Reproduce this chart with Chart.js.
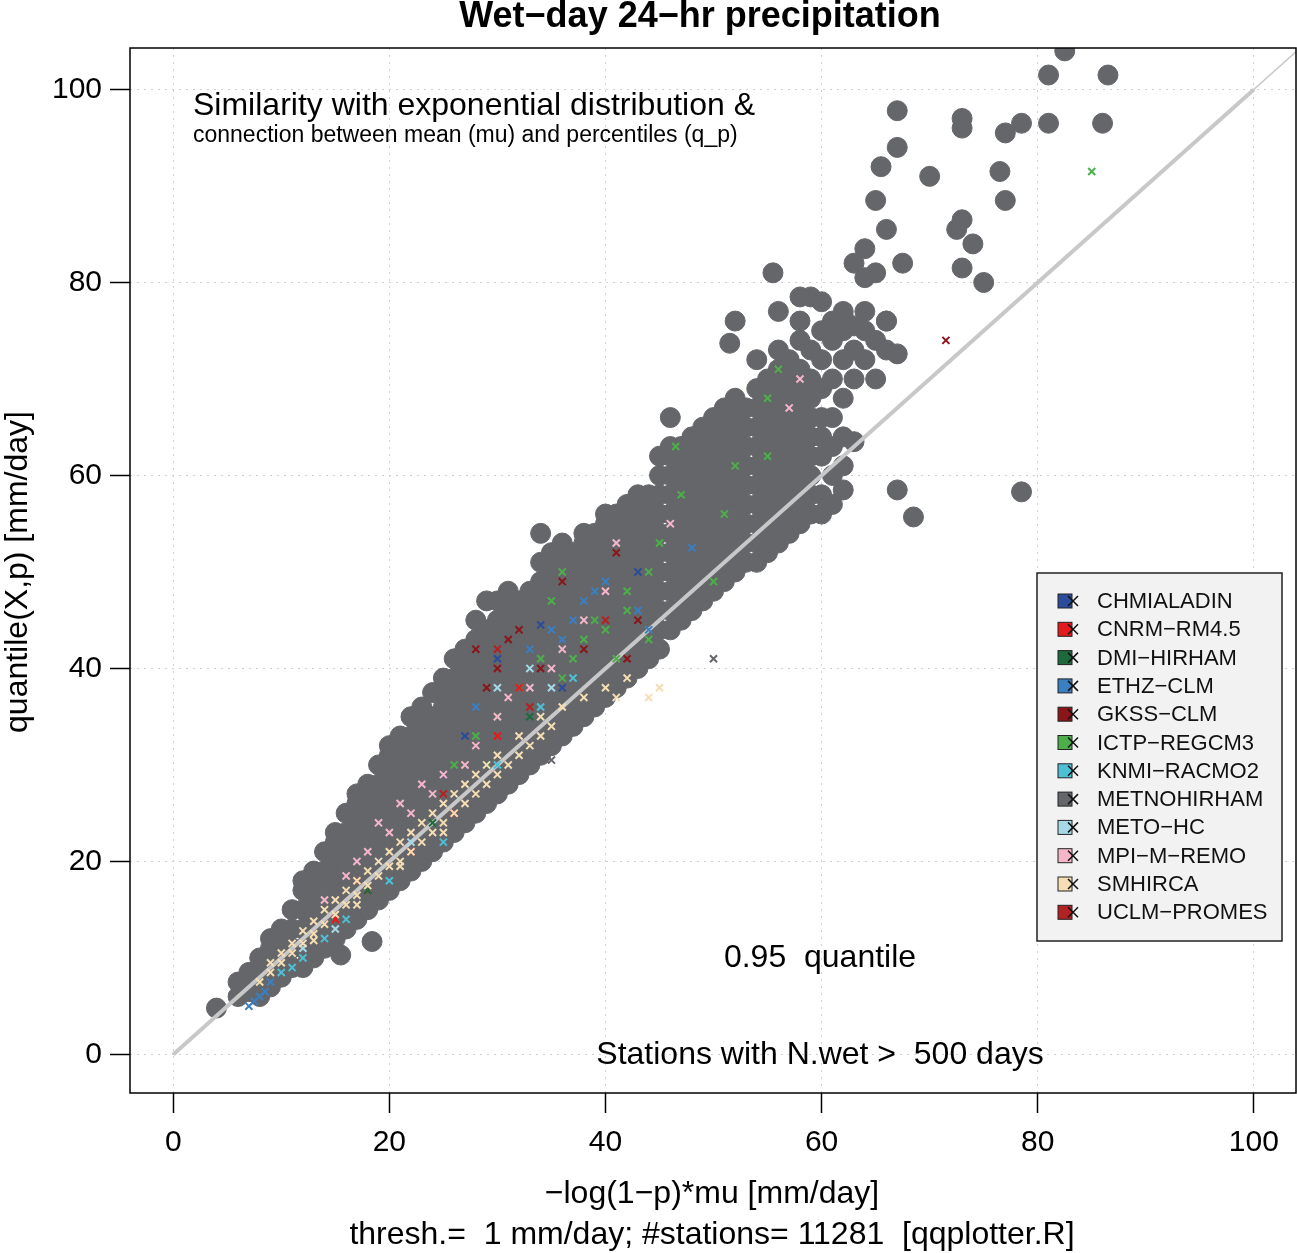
<!DOCTYPE html>
<html><head><meta charset="utf-8">
<script src="https://cdn.jsdelivr.net/npm/chart.js@4.4.1/dist/chart.umd.min.js"></script>
<style>html,body{margin:0;padding:0;background:#fff;overflow:hidden}#c{display:block}</style>
</head><body>
<div style="width:1307px;height:1253px"><canvas id="c"></canvas></div>
<script>
const FONT='"Liberation Sans", Arial, sans-serif';
const ticks=[0,20,40,60,80,100];
const modelNames=['CHMIALADIN','CNRM\u2212RM4.5','DMI\u2212HIRHAM','ETHZ\u2212CLM','GKSS\u2212CLM','ICTP\u2212REGCM3','KNMI\u2212RACMO2','METNOHIRHAM','METO\u2212HC','MPI\u2212M\u2212REMO','SMHIRCA','UCLM\u2212PROMES'];
const modelColors=['#2b4c9b','#e41a1c','#1d6b3c','#3a7fc1','#8b1518','#4daf4a','#4ec0d6','#646669','#a6d8e8','#f6b6c9','#f5deb3','#b22222'];
// METNOHIRHAM dots, by column x: [y values]
const grayCols=[[4,[4.8]],[6,[6,7.5]],[7,[6.5,8.5]],[8,[6,8,10]],[9,[7,9,11,12]],[10,[8,10,12,13]],[11,[9,11,13,15]],[12,[9,11,13,15,17,18]],[13,[10,12,14,16,18,19]],[14,[11,13,15,17,19,21]],[15,[12,14,16,18,20,22,23]],[16,[13,15,17,19,21,23,25]],[17,[14,16,18,20,22,24,26,27]],[18,[15,17,19,21,23,25,27,28]],[19,[16,18,20,22,24,26,28,30]],[20,[17,19,21,23,25,27,29,31,32]],[21,[18,20,22,24,26,28,30,32,33]],[22,[19,21,23,25,27,29,31,33,35]],[23,[20,22,24,26,28,30,32,34,36]],[24,[21,23,25,27,29,31,33,35,37.5]],[25,[22,24,26,28,30,32,34,36,38,39]],[26,[23,25,27,29,31,33,35,37,39,41]],[27,[24,26,28,30,32,34,36,38,40,42]],[28,[25,27,29,31,33,35,37,39,41,43,45]],[29,[26,28,30,32,34,36,38,40,42,44,47]],[30,[27,29,31,33,35,37,39,41,43,45,47]],[31,[28,30,32,34,36,38,40,42,44,46,48]],[32,[29,31,33,35,37,39,41,43,45,47]],[33,[30,32,34,36,38,40,42,44,46,48]],[34,[31,33,35,37,39,41,43,45,47,49,51]],[35,[32,34,36,38,40,42,44,46,48,50,52]],[36,[33,35,37,39,41,43,45,47,49,51,53]],[37,[34,36,38,40,42,44,46,48,50,52]],[38,[35,37,39,41,43,45,47,49,51,53,54]],[39,[36,38,40,42,44,46,48,50,52,54]],[40,[37,39,41,43,45,47,49,51,53,55,56]],[41,[38,40,42,44,46,48,50,52,54,56]],[42,[39,41,43,45,47,49,51,53,55,57]],[43,[40,42,44,46,48,50,52,54,56,58]],[44,[41,43,45,47,49,51,53,55,57,58]],[45,[42,44,46,48,50,52,54,56,58,60,62]],[46,[44,46,48,50,52,54,56,58,60,62,63]],[47,[45,47,49,51,53,55,57,59,61,63]],[48,[46,48,50,52,54,56,58,60,62,64]],[49,[47,49,51,53,55,57,59,61,63,65]],[50,[48,50,52,54,56,58,60,62,64,66]],[51,[49,51,53,55,57,59,61,63,65,67]],[52,[50,52,54,56,58,60,62,64,66,68]],[53,[51,53,55,57,59,61,63,65,67]],[54,[51,53,55,57,59,61,63,65,67,69,72]],[55,[52,54,56,58,60,62,64,66,68,70]],[56,[53,55,57,59,61,63,65,67,69,71,73]],[57,[54,56,58,60,62,64,66,68,70,72]],[58,[55,57,59,61,63,65,67,69,71,74,76]],[59,[56,58,60,62,64,66,68,70,73,78.5]],[60,[56,58,62,64,66,69,72,75,78]],[61,[57,60,63,66,70,74,76]],[62,[58.5,61,64,68,72,75,77]],[63,[63.5,70,73,75.5]],[64,[72,75,77]],[65,[70,74]],[66,[76,73]]];
const grayExtra=[[15.5,10.3],[18.4,11.7],[67,58.5],[68.5,55.7],[78.5,58.3],[55.5,81],[63,82],[66,85.5],[67.5,82],[65,88.5],[65.5,92],[67,94],[67,97.8],[70,91],[72.5,85.5],[73,86.5],[73,81.5],[74,84],[75,80],[73,96],[73,97],[77,95.5],[78.5,96.5],[76.5,91.5],[77,88.5],[81,96.5],[81,101.5],[82.5,104],[86.5,101.5],[86,96.5],[64,83.5],[64,80.5],[65,81],[52,76],[51.5,73.7],[56,77],[58,78.5],[62,76.5],[66,76],[67,72.6],[46,66],[34,54],[46.5,52.5]];
const crossSets={
'SMHIRCA':[[8,7.5],[9,8.5],[10,9.5],[10,10.5],[11,10.5],[11,11.5],[12,11.5],[12,12.8],[13,12.5],[13,13.8],[14,13.5],[14,15],[15,14.5],[15,16],[16,15.5],[16,17],[17,16.5],[17,18],[18,17.5],[18,19],[19,18.5],[19,20],[20,19.5],[20,21],[21,20],[21,22],[22,21],[22,23],[23,22],[23,24],[24,23],[24,25],[25,24],[25,26],[26,25],[26,27],[27,26],[27,28],[28,27],[28,29],[29,28],[30,29],[30,31],[31,30],[32,31],[33,32],[34,33],[35,34],[36,36],[38,37],[40,38],[41,37],[44,37],[45,38],[42,39],[9,9.5],[13,11.8],[17,15.5],[21,19.5],[25,23],[29,30],[32,33],[34,35]],
'MPI\u2212M\u2212REMO':[[14,16],[16,18.5],[17,20],[18,21],[20,23],[22,25],[24,27],[25,29],[27,30],[28,32],[30,35],[31,37],[33,38],[35,40],[36,42],[38,45],[40,48],[41,53],[46,55],[58,70],[57,67],[19,24],[21,26],[23,28]],
'ICTP\u2212REGCM3':[[35,47],[36,50],[38,43],[39,45],[40,44],[42,46],[44,50],[45,53],[47,58],[50,49],[51,56],[52,61],[55,68],[56,71],[55,62],[32,38],[34,41],[36,39],[30,35],[28,33],[26,30],[85,91.5],[46.5,63],[37,41],[41,41],[42,48],[44,43]],
'ETHZ\u2212CLM':[[7,5],[7.5,5.5],[8,6],[8.5,6.5],[9,7.5],[33,42],[35,44],[37,45],[38,47],[39,48],[40,49],[43,46],[48,52.5],[44,44],[36,43],[28,36]],
'CHMIALADIN':[[19,20],[25,29],[27,33],[30,41],[34,44.5],[43,50],[36,38]],
'CNRM\u2212RM4.5':[[15,14],[18,17],[22,21],[26,25],[32,38],[30,33]],
'DMI\u2212HIRHAM':[[18,17],[24,24],[29,30],[33,35]],
'GKSS\u2212CLM':[[28,42],[29,38],[31,43],[32,44],[36,49],[41,52],[43,45],[71.5,74],[30,40],[34,40],[38,42],[42,41]],
'KNMI\u2212RACMO2':[[10,8.5],[11,9],[12,10],[14,12],[16,14],[20,18],[25,22],[30,30],[34,36],[37,39]],
'METO\u2212HC':[[12,11],[15,13],[22,22],[30,38],[33,40],[35,38]],
'METNOHIRHAM':[[35,30.5],[26,30],[50,41]],
'UCLM\u2212PROMES':[[17,18],[25,27],[33,36],[30,42],[40,45]]
};
const drawOrder=['METNOHIRHAM','GKSS\u2212CLM','CHMIALADIN','ICTP\u2212REGCM3','ETHZ\u2212CLM','UCLM\u2212PROMES','CNRM\u2212RM4.5','DMI\u2212HIRHAM','METO\u2212HC','KNMI\u2212RACMO2','MPI\u2212M\u2212REMO','SMHIRCA'];

const grayPts=[];
grayCols.forEach(([x,ys])=>ys.forEach(y=>grayPts.push({x,y})));
grayExtra.forEach(([x,y])=>grayPts.push({x,y}));
const datasets=[{data:grayPts,type:'scatter',backgroundColor:'#646669',borderColor:'#646669',pointRadius:10,order:100}];
datasets.push({type:'line',data:[{x:0,y:0},{x:100,y:100}],borderColor:'#c8c8c8',borderWidth:4,pointRadius:0,order:90});
datasets.push({type:'line',data:[{x:0,y:0},{x:104,y:104}],borderColor:'#c8c8c8',borderWidth:1.5,pointRadius:0,order:89});
drawOrder.forEach((n,i)=>{const c=modelColors[modelNames.indexOf(n)];
 datasets.push({type:'scatter',data:crossSets[n].map(([x,y])=>({x,y})),pointStyle:'crossRot',pointRadius:5,borderWidth:2,borderColor:c,backgroundColor:c,order:80-i});});

const deco={id:'deco',afterDraw(ch){const g=ch.ctx,a=ch.chartArea;g.save();
 g.strokeStyle='#000';g.lineWidth=1.5;g.strokeRect(a.left,a.top,a.right-a.left,a.bottom-a.top);
 g.fillStyle='#000';g.textBaseline='middle';
 g.font='bold 36px '+FONT;g.textAlign='center';g.fillText('Wet\u2212day 24\u2212hr precipitation',700,17);
 g.font='32px '+FONT;g.textAlign='left';g.fillText('Similarity with exponential distribution &',193,106);
 g.font='23px '+FONT;g.fillText('connection between mean (mu) and percentiles (q_p)',193,136);
 g.font='32px '+FONT;g.textAlign='center';g.fillText('0.95  quantile',820,958);
 g.fillText('Stations with N.wet >  500 days',820,1055);
 g.fillText('\u2212log(1\u2212p)*mu [mm/day]',712,1194);
 g.fillText('thresh.=  1 mm/day; #stations= 11281  [qqplotter.R]',712,1235);
 g.save();g.translate(18,572);g.rotate(-Math.PI/2);g.fillText('quantile(X,p) [mm/day]',0,0);g.restore();
 // legend
 g.fillStyle='#f2f2f2';g.fillRect(1037,573,245,368);g.strokeStyle='#222';g.lineWidth=1.5;g.strokeRect(1037,573,245,368);
 g.font='22px '+FONT;g.textAlign='left';
 modelNames.forEach((n,i)=>{const y=601+i*28.3;g.fillStyle=modelColors[i];g.fillRect(1058,y-7,14,14);
  g.strokeStyle='#222';g.lineWidth=1;g.strokeRect(1058,y-7,14,14);
  g.strokeStyle='#111';g.lineWidth=1.5;g.beginPath();g.moveTo(1068,y-5);g.lineTo(1078,y+5);g.moveTo(1078,y-5);g.lineTo(1068,y+5);g.stroke();
  g.fillStyle='#111';g.fillText(n,1097,y+1);});
 g.restore();}};

const axis=(isX)=>({type:'linear',min:-4,max:isX?103.9:104.3,
 afterBuildTicks:s=>{s.ticks=ticks.map(v=>({value:v}));},
 afterFit:s=>{if(isX){s.height=160;}else{s.width=130;}},
 grid:{color:'#d0d0d0',lineWidth:1,tickColor:'#000',tickLength:20,tickWidth:1.5,tickBorderDash:[0,0]},
 border:{display:false,dash:[2,5]},
 ticks:{color:'#000',font:{size:30,family:FONT},padding:isX?12:8}});
new Chart(document.getElementById('c'),{type:'scatter',data:{datasets},
 options:{responsive:true,maintainAspectRatio:false,animation:false,devicePixelRatio:1,
 layout:{padding:{left:0,right:0,top:48,bottom:0}},
 plugins:{legend:{display:false},tooltip:{enabled:false}},
 scales:{x:axis(true),y:axis(false)}},plugins:[deco]});
</script></body></html>
